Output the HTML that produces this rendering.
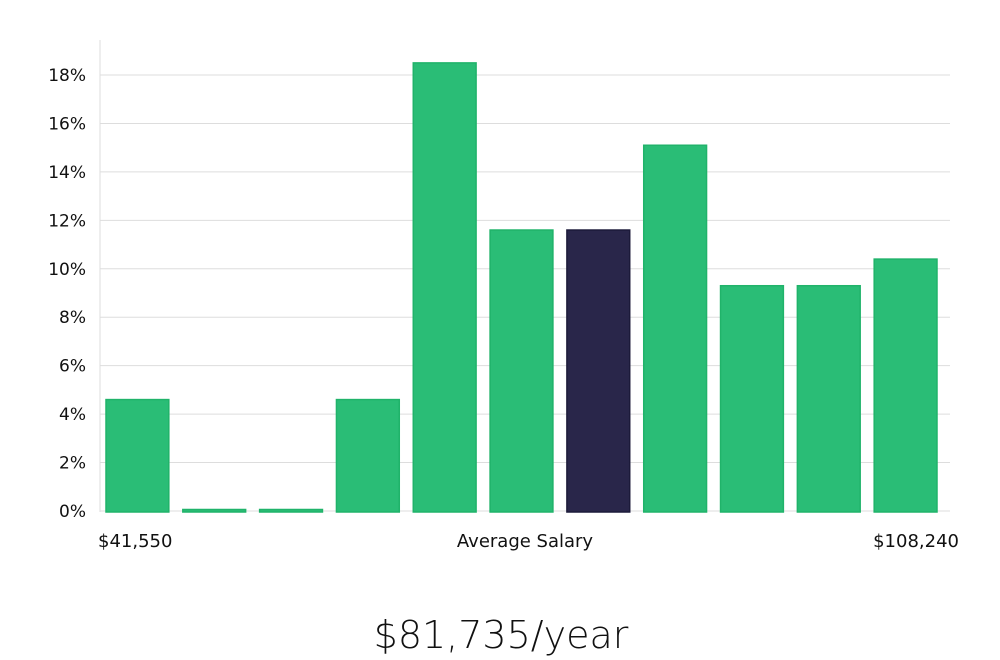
<!DOCTYPE html>
<html><head><meta charset="utf-8"><style>
html,body{margin:0;padding:0;background:#fff;width:1000px;height:660px;overflow:hidden}
text{font-family:"DejaVu Sans","Liberation Sans",sans-serif}
</style></head><body>
<svg id="chart" width="1000" height="660" xmlns="http://www.w3.org/2000/svg">
<g id="grid"></g>
<g id="bars"></g>
<line x1="100" y1="40" x2="100" y2="512" stroke="#ddd" stroke-width="1"/>
<g id="yticks"></g>
<text x="98" y="547" font-size="18" fill="#111">$41,550</text>
<text x="525" y="547" font-size="18" fill="#111" text-anchor="middle">Average Salary</text>
<text x="959" y="547" font-size="18" fill="#111" text-anchor="end">$108,240</text>
<text x="501" y="648" font-size="38" fill="#111" text-anchor="middle" font-family="Liberation Sans, sans-serif" font-weight="300">$81,735/year</text>
</svg>
<script>
const values = [4.6, 0, 0, 4.6, 18.5, 11.6, 11.6, 15.1, 9.3, 9.3, 10.4];
const highlight = [false,false,false,false,false,false,true,false,false,false,false];
const yTicks = [0,2,4,6,8,10,12,14,16,18];
const NS="http://www.w3.org/2000/svg";
const x0=100, x1=950, y0=511, yTop=75;
function y(v){return y0-(v/18)*(y0-yTop);}
const step=(x1-x0-5)/values.length;
function x(i){return x0+6+i*step;}
const grid=document.getElementById('grid'), yt=document.getElementById('yticks'), bars=document.getElementById('bars');
yTicks.forEach(t=>{
  const l=document.createElementNS(NS,'line');
  
  
  l.setAttribute('x1',x0);l.setAttribute('x2',x1);l.setAttribute('y1',y(t));l.setAttribute('y2',y(t));
  l.setAttribute('stroke','#ddd');l.setAttribute('stroke-width','1');grid.appendChild(l);
  const tx=document.createElementNS(NS,'text');
  
  
  tx.setAttribute('x',86);tx.setAttribute('y',y(t)+6);tx.setAttribute('text-anchor','end');
  tx.setAttribute('font-size','17');tx.setAttribute('fill','#111');tx.textContent=t+'%';yt.appendChild(tx);
});
values.forEach((v,i)=>{
  const r=document.createElementNS(NS,'rect');
  
  
  const top=Math.min(y(v),y0-1.5);
  r.setAttribute('x',x(i));r.setAttribute('width',step-14);
  r.setAttribute('y',top);r.setAttribute('height',y0+1-top);
  r.setAttribute('fill',highlight[i]?'#29264a':'#2abd76');
  r.setAttribute('stroke',highlight[i]?'#1c1a3a':'#20b36a');r.setAttribute('stroke-width','1.5');
  bars.appendChild(r);
});
</script>
</body></html>
